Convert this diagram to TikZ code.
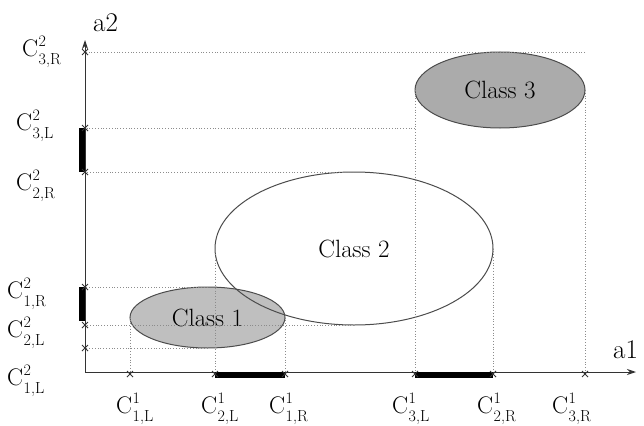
\documentclass[tikz,border=0pt]{standalone}
\usetikzlibrary{shapes.geometric,shapes.misc,arrows.meta}
\newcommand{\clab}[2]{C\kern0.5pt\rlap{\raisebox{10pt}{\fontsize{16}{16}\selectfont #1}}\raisebox{-8pt}{\fontsize{16}{16}\selectfont #2}}
\begin{document}
\begin{tikzpicture}[x=1pt,y=-1pt,
 cls/.style={ellipse,draw=black!70,line width=1pt,inner sep=0,outer sep=0,font=\fontsize{25}{25}\selectfont},
 proj/.style={draw=black!45,dotted,line width=0.8pt},
 tickmark/.style={cross out,draw=black!80,line width=0.8pt,minimum size=6pt,inner sep=0,outer sep=0},
 barseg/.style={line width=6pt},
 axis/.style={draw=black!80,line width=1pt,-{Stealth[length=9pt,width=6pt]}},
 lab/.style={anchor=base west,inner sep=0,font=\fontsize{24}{24}\selectfont},
 axlab/.style={anchor=base west,inner sep=0,font=\fontsize{27}{27}\selectfont}]
\useasboundingbox (0,0) rectangle (644,425);
\coordinate (O) at (85,372);
\coordinate (ytip) at (85,40);
\coordinate (xtip) at (636,372);

% classes
\node[cls,fill=black!25,minimum width=155,minimum height=61] (c1) at (207.5,317.5) {Class 1};
\node[cls,fill=black!33,minimum width=170,minimum height=76] (c3) at (500,90) {Class 3};
\node[cls,minimum width=278,minimum height=153] (c2) at (354,248.5) {Class 2};

% projections
\draw[proj] (c1.north) -- (c1.north -| O);
\draw[proj] (c1.south) -- (c1.south -| O);
\draw[proj] (c1.west) -- (c1.west |- O);
\draw[proj] (c1.east) -- (c1.east |- O);
\draw[proj] (c2.north) -- (c2.north -| O);
\draw[proj] (c2.south) -- (c2.south -| O);
\draw[proj] (c2.west) -- (c2.west |- O);
\draw[proj] (c2.east) -- (c2.east |- O);
\draw[proj] (c3.east |- c3.north) -- (c3.north -| O);
\draw[proj] (c3.west |- c3.south) -- (c3.south -| O);
\draw[proj] (c3.west) -- (c3.west |- O);
\draw[proj] (c3.east) -- (c3.east |- O);

% axes
\draw[axis] (O) -- (ytip);
\draw[axis] (O) -- (xtip);

% thick bars
\draw[barseg] ([xshift=-3pt]c3.south -| O) -- ([xshift=-3pt]c2.north -| O);
\draw[barseg] ([xshift=-3pt]c1.north -| O) -- ([xshift=-3pt,yshift=4pt]c2.south -| O);
\draw[barseg] ([yshift=-3pt]c2.west |- O) -- ([yshift=-3pt]c1.east |- O);
\draw[barseg] ([yshift=-3pt]c3.west |- O) -- ([yshift=-3pt]c2.east |- O);

% ticks
\node[tickmark] (ty1) at (c3.north -| O) {};
\node[tickmark] (ty2) at (c3.south -| O) {};
\node[tickmark] (ty3) at (c2.north -| O) {};
\node[tickmark] (ty4) at (c1.north -| O) {};
\node[tickmark] (ty5) at (c2.south -| O) {};
\node[tickmark] (ty6) at (c1.south -| O) {};
\node[tickmark] (tx1) at ([yshift=-2pt]c1.west |- O) {};
\node[tickmark] (tx2) at ([yshift=-2pt]c2.west |- O) {};
\node[tickmark] (tx3) at ([yshift=-2pt]c1.east |- O) {};
\node[tickmark] (tx4) at ([yshift=-2pt]c3.west |- O) {};
\node[tickmark] (tx5) at ([yshift=-2pt]c2.east |- O) {};
\node[tickmark] (tx6) at ([yshift=-2pt]c3.east |- O) {};

% axis labels
\node[axlab] (a2) at (93,32) {a2};
\node[axlab] (a1) at (613,358) {a1};

% y-axis labels
\node[lab] (ly1) at (22,57) {\clab{2}{3,R}};
\node[lab] (ly2) at (16,130) {\clab{2}{3,L}};
\node[lab] (ly3) at (16,190) {\clab{2}{2,R}};
\node[lab] (ly4) at (7,298) {\clab{2}{1,R}};
\node[lab] (ly5) at (7,337) {\clab{2}{2,L}};
\node[lab] (ly6) at (7,385) {\clab{2}{1,L}};

% x-axis labels
\node[lab] (lx1) at (116,413) {\clab{1}{1,L}};
\node[lab] (lx2) at (201,413) {\clab{1}{2,L}};
\node[lab] (lx3) at (269,413) {\clab{1}{1,R}};
\node[lab] (lx4) at (392,413) {\clab{1}{3,L}};
\node[lab] (lx5) at (477,413) {\clab{1}{2,R}};
\node[lab] (lx6) at (552,413) {\clab{1}{3,R}};
\end{tikzpicture}
\end{document}
